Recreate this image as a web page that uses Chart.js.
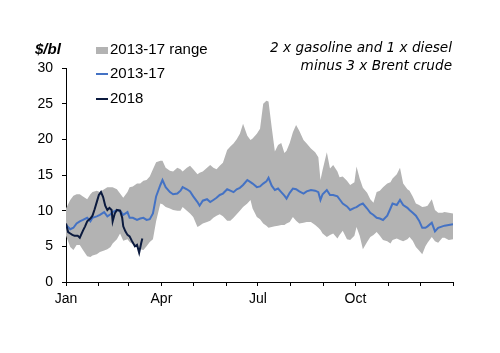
<!DOCTYPE html>
<html>
<head>
<meta charset="utf-8">
<script src="https://cdn.jsdelivr.net/npm/chart.js@4.4.1/dist/chart.umd.min.js"></script>
<style>
  html, body { margin: 0; padding: 0; background: #fff; }
  #wrap { width: 500px; height: 353px; position: relative; }
</style>
</head>
<body>
<div id="wrap"><canvas id="crack"></canvas></div>
<script>
// ---- data (day of year, $/bl) ----
const days = [0,4,7,10,13,16,20,23,25,29,32,36,39,42,44,48,51,54,58,60,63,67,70,73,76,79,82,85,89,91,94,98,101,105,108,110,114,117,120,124,126,129,133,136,139,142,145,148,152,155,158,161,164,167,171,174,176,180,183,186,189,191,194,197,200,203,206,208,211,214,217,220,224,227,231,235,238,240,242,246,249,252,256,258,261,265,268,272,274,277,280,284,287,290,293,296,299,303,306,308,312,315,318,322,324,327,330,333,336,339,341,345,348,351,355,357,361,365];
const rangeHigh = [10.3,11.5,12.1,12.3,12.3,12.0,11.6,12.3,12.6,12.8,12.6,13.0,13.3,13.3,13.3,13.0,12.4,11.8,12.6,13.3,13.4,13.8,13.8,14.2,14.3,14.8,15.8,16.8,17.0,17.0,16.0,15.6,15.5,16.0,15.8,15.5,16.0,16.3,15.8,15.1,15.3,15.5,16.0,16.4,16.0,15.8,16.3,16.7,18.5,19.0,19.4,20.0,20.8,22.2,20.5,19.9,20.1,20.8,21.5,25.0,25.4,25.3,21.7,18.3,19.2,19.5,18.1,18.4,19.5,21.0,22.0,21.2,19.9,19.4,18.7,18.2,17.5,14.3,15.7,18.2,15.9,16.4,15.5,14.7,14.8,14.2,13.6,14.0,16.2,14.5,13.2,12.5,11.6,11.1,12.6,12.8,13.3,13.8,14.0,14.5,15.1,16.0,13.8,13.0,12.8,12.0,11.0,10.8,10.5,10.6,10.7,11.6,10.1,9.7,9.7,9.8,9.7,9.6];
const rangeLow = [6.5,4.9,4.5,5.2,5.2,4.5,3.6,3.5,3.7,3.9,4.2,4.4,4.6,4.9,5.4,6.0,6.8,5.8,6.0,5.6,5.3,4.9,4.6,4.5,5.0,5.6,6.0,8.5,11.0,10.9,10.5,10.3,10.1,10.0,10.0,10.5,10.0,9.6,9.1,7.7,7.9,8.2,8.4,8.6,9.0,9.3,9.5,9.2,8.6,8.6,9.0,9.5,10.0,10.5,11.0,11.5,10.3,9.1,8.8,8.2,7.9,7.6,7.7,7.8,7.9,8.0,8.0,8.2,8.4,9.1,8.6,8.2,8.3,8.4,8.4,8.0,7.6,7.3,6.8,6.3,6.6,6.8,6.1,6.6,7.2,6.0,5.9,6.5,7.7,6.5,4.6,5.6,6.3,6.6,7.0,6.5,5.9,5.7,5.4,5.9,6.1,5.9,5.7,6.0,6.3,5.8,4.9,4.4,3.9,5.0,5.5,6.3,5.7,5.5,6.2,6.2,5.9,6.0];
const avg5y = [8.0,7.4,7.6,8.2,8.5,8.7,9.0,8.5,9.0,9.2,9.4,9.8,9.2,9.5,9.8,10.1,10.0,9.4,9.8,9.0,9.0,8.7,8.9,9.0,8.7,8.8,9.6,12.0,13.6,14.3,13.3,12.6,12.3,12.4,12.8,13.3,13.0,12.7,12.0,11.2,10.7,11.4,11.6,11.2,11.5,11.8,12.2,12.4,13.0,12.8,12.6,13.0,13.2,13.6,14.3,14.0,13.8,13.3,13.4,13.8,14.1,14.6,13.5,12.9,13.1,12.6,12.1,11.7,12.5,13.1,13.0,12.7,12.4,12.7,12.9,12.8,12.6,11.5,12.3,12.9,12.2,12.2,12.0,11.6,11.0,10.6,10.1,10.4,10.5,10.8,11.0,10.3,9.7,9.4,9.0,8.9,8.7,9.3,10.3,11.0,10.8,11.5,10.8,10.4,10.1,9.7,9.3,8.6,7.6,7.6,7.8,8.3,7.1,7.6,7.8,7.9,8.0,8.1];
const days2018 = [0,2,4,6,8,11,13,16,18,20,23,25,27,29,31,33,35,37,39,41,43,44,46,48,51,53,54,56,58,60,62,65,67,69,71,72];
const val2018 = [8.2,7.0,6.8,6.6,6.5,6.5,6.2,7.2,7.8,8.5,8.9,9.3,10.2,11.2,12.2,12.6,11.9,10.7,10.1,10.4,10.1,8.5,9.6,10.1,10.0,9.0,7.8,7.1,6.6,6.4,5.8,5.0,5.2,4.1,5.5,6.1];

const monthStarts = [0,31,59,90,120,151,181,212,243,273,304,334,365];
const monthLabels = {0: "Jan", 90: "Apr", 181: "Jul", 273: "Oct"};
const yTicks = [0,5,10,15,20,25,30];

const pts = (xs, ys) => xs.map((x, i) => ({x: x, y: ys[i]}));

const GRAY = "#b3b3b3";
const BLUE = "#4472c4";
const NAVY = "#0b1a3e";

// legend + notes drawn on the canvas
const notes = {
    id: "notes",
    afterDraw(chart) {
        const c = chart.ctx;
        c.save();
        c.fillStyle = "#000";
        c.textBaseline = "middle";
        c.font = "italic bold 15px 'Liberation Sans', Arial, sans-serif";
        c.textAlign = "left";
        c.fillText("$/bl", 35, 50);

        c.font = "15px 'Liberation Sans', Arial, sans-serif";
        c.fillStyle = GRAY;
        c.fillRect(96, 47, 12, 7);
        c.fillStyle = "#000";
        c.fillText("2013-17 range", 110, 50);
        c.strokeStyle = BLUE; c.lineWidth = 2;
        c.beginPath(); c.moveTo(96, 74); c.lineTo(108, 74); c.stroke();
        c.fillText("2013-17", 110, 74);
        c.strokeStyle = NAVY;
        c.beginPath(); c.moveTo(96, 99); c.lineTo(108, 99); c.stroke();
        c.fillText("2018", 110, 99);

        // fit the note's first line to ~182px
        const l1 = "2 x gasoline and 1 x diesel";
        c.font = "oblique 12px 'DejaVu Sans', sans-serif";
        let sz = 12 * 182 / c.measureText(l1).width;
        sz = Math.min(15, Math.max(10, sz));
        c.font = "oblique " + sz.toFixed(2) + "px 'DejaVu Sans', sans-serif";
        c.textAlign = "right";
        c.fillText(l1, 452, 48);
        c.fillText("minus 3 x Brent crude", 452, 66);
        c.restore();
    }
};

new Chart(document.getElementById("crack"), {
    type: "line",
    data: {
        datasets: [
            {
                label: "2018",
                data: pts(days2018, val2018),
                borderColor: NAVY,
                borderWidth: 2,
                pointRadius: 0,
                tension: 0,
                fill: false,
                order: 0
            },
            {
                label: "2013-17",
                data: pts(days, avg5y),
                borderColor: BLUE,
                borderWidth: 2,
                pointRadius: 0,
                tension: 0,
                fill: false,
                order: 1
            },
            {
                label: "high",
                data: pts(days, rangeHigh),
                borderWidth: 0,
                borderColor: "rgba(0,0,0,0)",
                backgroundColor: GRAY,
                pointRadius: 0,
                fill: "+1",
                order: 2
            },
            {
                label: "low",
                data: pts(days, rangeLow),
                borderWidth: 0,
                borderColor: "rgba(0,0,0,0)",
                pointRadius: 0,
                fill: false,
                order: 3
            }
        ]
    },
    options: {
        responsive: true,
        maintainAspectRatio: false,
        animation: false,
        events: [],
        layout: { padding: { top: 68, right: 47, bottom: 0, left: 0 } },
        plugins: {
            legend: { display: false },
            tooltip: { enabled: false },
            filler: { propagate: false }
        },
        scales: {
            x: {
                type: "linear",
                min: 0,
                max: 365,
                afterBuildTicks: (s) => { s.ticks = monthStarts.map(v => ({value: v})); },
                afterFit: (s) => { s.height = 71; },
                ticks: {
                    autoSkip: false,
                    maxRotation: 0,
                    padding: 5,
                    color: "#000",
                    font: { family: "'Liberation Sans', Arial, sans-serif", size: 14 },
                    callback: (v) => monthLabels[v] || ""
                },
                grid: { drawOnChartArea: false, drawTicks: true, tickLength: 4, color: "#000" },
                border: { display: true, color: "#000", width: 1 }
            },
            y: {
                min: 0,
                max: 30,
                afterBuildTicks: (s) => { s.ticks = yTicks.map(v => ({value: v})); },
                afterFit: (s) => { s.width = 66; },
                ticks: {
                    padding: 9,
                    color: "#000",
                    font: { family: "'Liberation Sans', Arial, sans-serif", size: 14 }
                },
                grid: { drawOnChartArea: false, drawTicks: true, tickLength: 4, color: "#000" },
                border: { display: true, color: "#000", width: 1 }
            }
        }
    },
    plugins: [notes]
});
</script>
</body>
</html>
